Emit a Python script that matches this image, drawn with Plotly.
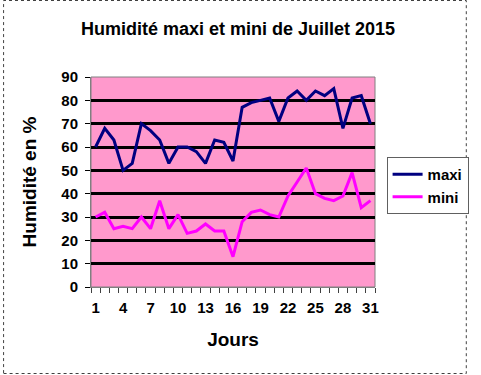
import plotly.graph_objects as go

days = list(range(1, 32))
maxi = [60, 68, 63, 50, 53, 70, 67, 63, 53, 60, 60, 58, 53, 63, 62, 54,
        77, 79, 80, 81, 71, 81, 84, 80, 84, 82, 85, 68, 81, 82, 70]
mini = [30, 32, 25, 26, 25, 30, 25, 37, 25, 31, 23, 24, 27, 24, 24, 13,
        28, 32, 33, 31, 30, 39, 45, 51, 40, 38, 37, 39, 49, 34, 37]
x_tick_labels = [1, 4, 7, 10, 13, 16, 19, 22, 25, 28, 31]

W, H = 481, 375
ML, MR, MT, MB = 91, 96, 77, 88
PW, PH = W - ML - MR, H - MT - MB

FONT = "Liberation Sans, Arial, sans-serif"

fig = go.Figure()
fig.add_trace(go.Scatter(x=days, y=maxi, mode="lines", name="<b>maxi</b>",
                         line=dict(color="#000080", width=3)))
fig.add_trace(go.Scatter(x=days, y=mini, mode="lines", name="<b>mini</b>",
                         line=dict(color="#FF00FF", width=3)))

def px_to_paper_x(px):
    return (px - ML) / PW

def px_to_paper_y(py):
    return (H - MB - py) / PH

fig.add_shape(type="rect", xref="paper", yref="paper",
              x0=px_to_paper_x(0.5), x1=px_to_paper_x(479.5),
              y0=px_to_paper_y(373.5), y1=px_to_paper_y(0.5),
              line=dict(color="#404040", width=1, dash="dot"), layer="above")
fig.add_shape(type="rect", xref="paper", yref="paper", x0=0, x1=1, y0=0, y1=1,
              line=dict(color="#808080", width=1), layer="below")

fig.update_layout(
    width=W, height=H,
    margin=dict(l=ML, r=MR, t=MT, b=MB),
    paper_bgcolor="white",
    plot_bgcolor="#FF99CC",
    font=dict(family=FONT, color="black", size=14),
    title=dict(text="<b>Humidité maxi et mini de Juillet 2015</b>",
               x=238 / W, xanchor="center", y=1 - 29 / H, yanchor="middle",
               font=dict(size=18, family=FONT)),
    showlegend=True,
    legend=dict(x=px_to_paper_x(397), y=px_to_paper_y(157), xanchor="left", yanchor="top",
                bordercolor="#606060", borderwidth=1, bgcolor="white",
                font=dict(size=15, family=FONT), tracegroupgap=2,
                itemwidth=30),
    xaxis=dict(range=[0.5, 31.5], tickmode="array", tickvals=x_tick_labels,
               ticktext=[f"<b>{v}</b>" for v in x_tick_labels],
               ticks="", showgrid=False, zeroline=False,
               showline=True, linecolor="#808080", linewidth=1,
               ticklabelstandoff=7,
               minor=dict(tickmode="array", tickvals=[d - 0.5 for d in days] + [31.5],
                          ticks="outside", ticklen=5, tickcolor="#404040", tickwidth=1,
                          showgrid=False),
               tickfont=dict(size=15),
               title=dict(text="<b>Jours</b>", font=dict(size=19), standoff=17)),
    yaxis=dict(range=[0, 90],
               tickvals=list(range(0, 91, 10)),
               ticktext=[f"<b>{v}</b>" for v in range(0, 91, 10)],
               ticks="outside", ticklen=5, tickcolor="black", tickwidth=1,
               ticklabelstandoff=4,
               showgrid=True, gridcolor="black", gridwidth=2.5,
               zeroline=False, showline=True, linecolor="#808080", linewidth=1,
               tickfont=dict(size=15),
               title=dict(text="<b>Humidité en %</b>", font=dict(size=19), standoff=19)),
)

fig.write_html("out.html")
